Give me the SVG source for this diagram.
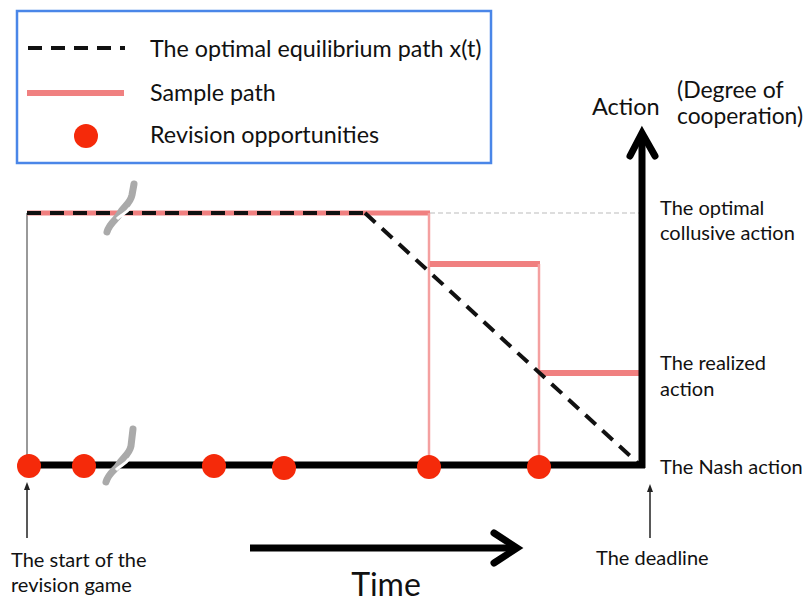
<svg xmlns="http://www.w3.org/2000/svg" width="806" height="603" viewBox="0 0 806 603">
<style>
text{font-family:Lato,"Liberation Sans",sans-serif;fill:#111}
.lbl{font-size:20px}
.leg{font-size:23.3px}
.dot{fill:#f52a0a}
.brk{stroke:#aaa;stroke-width:7;fill:none;stroke-linecap:round}
.gap{stroke:#fff;stroke-width:3;fill:none}
</style>
<defs>
<marker id="thin" markerWidth="10" markerHeight="10" refX="5" refY="5" orient="auto" markerUnits="userSpaceOnUse"><path d="M1,2 L9,5 L1,8 Z" fill="#222"/></marker>
</defs>
<rect width="806" height="603" fill="#fff"/>
<g id="legend">
<rect x="17" y="11" width="474" height="152" fill="#fff" stroke="#4a86e8" stroke-width="2.5"/>
<line x1="28" y1="48" x2="125" y2="48" stroke="#111" stroke-width="4" stroke-dasharray="14,9"/>
<text class="leg" x="150" y="57">The optimal equilibrium path x(t)</text>
<line x1="27" y1="93" x2="124" y2="93" stroke="#f08080" stroke-width="6"/>
<text class="leg" x="150" y="101">Sample path</text>
<circle class="dot" cx="86" cy="136" r="12"/>
<text class="leg" x="150" y="143">Revision opportunities</text>
</g>
<g id="connectors">
<line x1="27" y1="213" x2="27" y2="465" stroke="#999" stroke-width="2"/>
<line x1="430" y1="213" x2="640" y2="213" stroke="#bbb" stroke-width="1.2" stroke-dasharray="5,3"/>
<line x1="27" y1="213" x2="430" y2="213" stroke="#f08080" stroke-width="5"/>
<line x1="429" y1="213" x2="429" y2="465" stroke="#f4a0a0" stroke-width="2.5"/>
<line x1="430" y1="264" x2="540" y2="264" stroke="#f08080" stroke-width="6"/>
<line x1="539" y1="264" x2="539" y2="465" stroke="#f4a0a0" stroke-width="2.5"/>
<line x1="540" y1="373" x2="641" y2="373" stroke="#f08080" stroke-width="6"/>
<line x1="27" y1="213" x2="365" y2="213" stroke="#111" stroke-width="4" stroke-dasharray="14,9"/>
<line x1="365" y1="213" x2="640" y2="465" stroke="#111" stroke-width="4" stroke-dasharray="14,9"/>
<line x1="27" y1="465" x2="645" y2="465" stroke="#000" stroke-width="7"/>
<line x1="642" y1="468" x2="642" y2="133" stroke="#000" stroke-width="7"/>
<path d="M630,156 L642,133 L655,156" stroke="#000" stroke-width="7" fill="none" stroke-linecap="round"/>
<path class="brk" d="M107,232 C110,222 117,220 120,213 C124,206 130,204 132,195 L134,184"/>
<path class="gap" d="M117,219 C122,214 126,214 130,208"/>
<path class="brk" d="M106,482 C109,472 116,470 119,464 C123,457 129,455 131,446 L133,429"/>
<path class="gap" d="M116,470 C121,465 125,465 129,459"/>
<line x1="27" y1="538" x2="27" y2="486" stroke="#222" stroke-width="1.5" marker-end="url(#thin)"/>
<line x1="650" y1="538" x2="650" y2="488" stroke="#222" stroke-width="1.5" marker-end="url(#thin)"/>
<line x1="250" y1="548" x2="514" y2="548" stroke="#000" stroke-width="7"/>
<path d="M494,533 L517,548 L494,563" stroke="#000" stroke-width="7" fill="none" stroke-linecap="round"/>
</g>
<g id="dots">
<circle class="dot" cx="29" cy="466" r="12"/>
<circle class="dot" cx="84" cy="466" r="12"/>
<circle class="dot" cx="214" cy="466" r="12"/>
<circle class="dot" cx="284" cy="468" r="12"/>
<circle class="dot" cx="429" cy="467" r="12"/>
<circle class="dot" cx="539" cy="467" r="12"/>
</g>
<g id="labels">
<text x="592" y="115" font-size="23.5">Action</text>
<text x="677" y="98" font-size="23">(Degree of</text>
<text x="677" y="124" font-size="22.8">cooperation)</text>
<text class="lbl" x="660" y="215">The optimal</text>
<text class="lbl" x="660" y="240">collusive action</text>
<text class="lbl" x="660" y="370">The realized</text>
<text class="lbl" x="660" y="396">action</text>
<text class="lbl" x="660" y="474">The Nash action</text>
<text class="lbl" x="596" y="565">The deadline</text>
<text class="lbl" x="11" y="567">The start of the</text>
<text class="lbl" x="11" y="592">revision game</text>
<text x="386" y="596" font-size="32" text-anchor="middle">Time</text>
</g>
</svg>
